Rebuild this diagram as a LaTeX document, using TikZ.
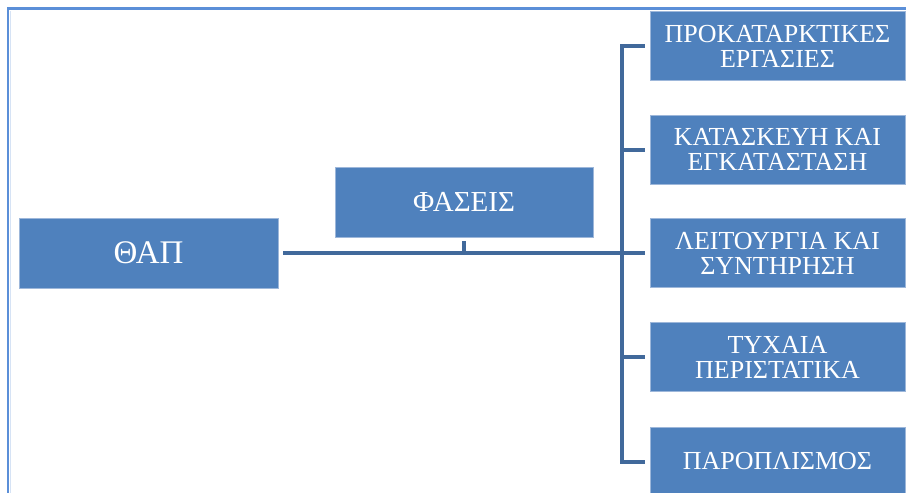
\documentclass[tikz,border=0pt]{standalone}
\usepackage{fontspec}
\setmainfont{Liberation Serif}
\definecolor{boxblue}{HTML}{4F81BD}
\definecolor{edgeblue}{HTML}{9DB7DA}
\definecolor{linkblue}{HTML}{41699B}
\definecolor{frameblue}{HTML}{5B8FD8}
\tikzset{
  box/.style={fill=boxblue, draw=edgeblue, line width=0.8pt, text=white, align=center, inner sep=0pt},
  rbox/.style={box, minimum width=255pt, minimum height=69pt, font=\fontsize{26}{25}\selectfont},
  link/.style={draw=linkblue, line width=4pt},
  frameline/.style={draw=frameblue, line width=2.5pt}
}
\begin{document}
\begin{tikzpicture}[x=1pt,y=-1pt]
\useasboundingbox (0,0) rectangle (906,493);
\fill[white] (0,0) rectangle (906,493);
% frame
\coordinate (fbl) at (8,493);
\coordinate (ftl) at (8,8.5);
\coordinate (ftr) at (906,8.5);
\draw[frameline] (fbl) -- (ftl) -- (ftr);
\draw[draw=frameblue!25, line width=1pt] (10.5,493) -- (10.5,11);
% nodes
\node[box, minimum width=259pt, minimum height=70pt, font=\fontsize{33}{33}\selectfont] (thap) at (148.5,253) {ΘΑΠ};
\node[box, minimum width=258pt, minimum height=70pt, font=\fontsize{29}{29}\selectfont] (phases) at (464,202) {ΦΑΣΕΙΣ};
\node[rbox] (b1) at (777.5,46) {ΠΡΟΚΑΤΑΡΚΤΙΚΕΣ\\ΕΡΓΑΣΙΕΣ};
\node[rbox] (b2) at (777.5,149.5) {ΚΑΤΑΣΚΕΥΗ ΚΑΙ\\ΕΓΚΑΤΑΣΤΑΣΗ};
\node[rbox] (b3) at (777.5,253) {ΛΕΙΤΟΥΡΓΙΑ ΚΑΙ\\ΣΥΝΤΗΡΗΣΗ};
\node[rbox] (b4) at (777.5,357) {ΤΥΧΑΙΑ\\ΠΕΡΙΣΤΑΤΙΚΑ};
\node[rbox] (b5) at (777.5,461.5) {ΠΑΡΟΠΛΙΣΜΟΣ};
% connectors
\coordinate (bar) at (622,0);
\draw[link] ([xshift=5pt]thap.east) -- ([xshift=-5pt]b3.west);
\draw[link] ([yshift=-4pt]phases.south) -- (phases.south |- thap.east);
\draw[link, line join=miter] ([xshift=-5pt]b1.west) -| (bar |- b5.west) -- ([xshift=-5pt]b5.west);
\draw[link] (bar |- b2.west) -- ([xshift=-5pt]b2.west);
\draw[link] (bar |- b4.west) -- ([xshift=-5pt]b4.west);
\end{tikzpicture}
\end{document}
